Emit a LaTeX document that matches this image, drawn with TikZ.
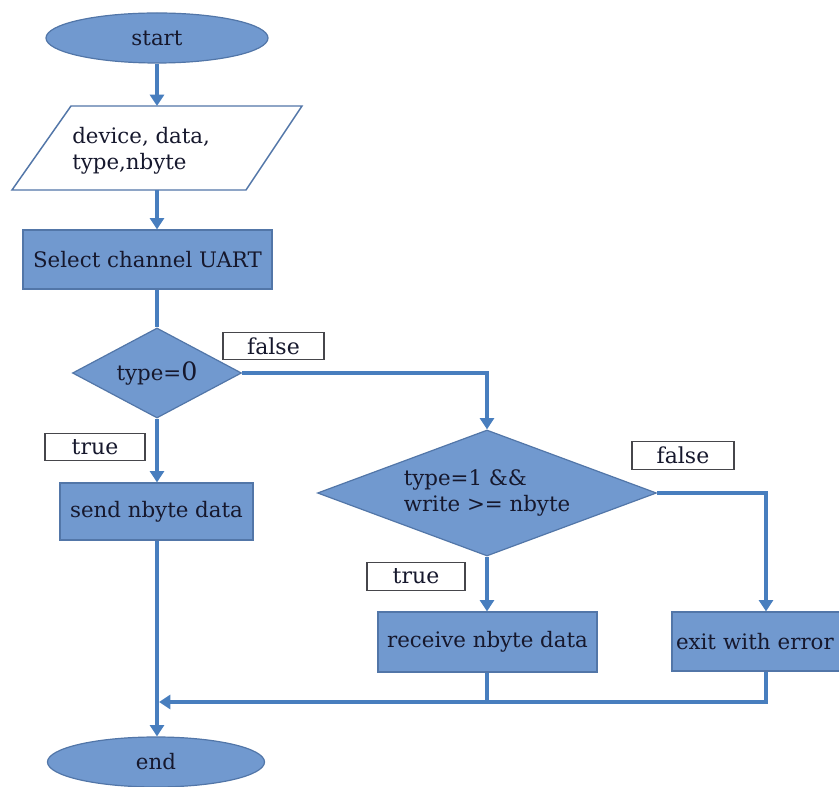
\documentclass[tikz,border=0pt]{standalone}
\usepackage{fontspec}
\setmainfont{DejaVu Serif}
\usetikzlibrary{shapes.geometric,arrows.meta}

\definecolor{boxfill}{RGB}{113,153,207}
\definecolor{boxline}{RGB}{82,118,168}
\definecolor{flow}{RGB}{72,126,190}
\definecolor{tagline}{RGB}{70,70,75}
\definecolor{ink}{RGB}{22,24,45}

\begin{document}
\begin{tikzpicture}[x=0.75pt,y=-0.75pt,
  every node/.style={font=\fontsize{16}{19.5}\selectfont, text=ink},
  base/.style={draw=boxline, line width=0.9pt, fill=boxfill, inner sep=0pt},
  terminal/.style={base, ellipse},
  process/.style={base, rectangle},
  decision/.style={base, diamond},
  ioshape/.style={draw=boxline, line width=1.1pt, fill=white},
  tag/.style={draw=tagline, line width=0.8pt, fill=white, inner sep=0pt,
    font=\fontsize{16.5}{19}\selectfont, minimum height=20.5pt},
  flowline/.style={draw=flow, line width=3pt},
  flowarrow/.style={flowline, -{Triangle[width=10.5pt,length=8.5pt]}}]

\path[use as bounding box, clip] (0,0) rectangle (839,787);
\fill[white] (0,0) rectangle (839,787);

% input / output parallelogram
\coordinate (inTL) at (71,106);
\coordinate (inTR) at (302,106);
\coordinate (inBR) at (246,190);
\coordinate (inBL) at (12,190);
\draw[ioshape] (inTL) -- (inTR) -- (inBR) -- (inBL) -- cycle;
\coordinate (intop) at (157,106);
\coordinate (inbottom) at (157,190);

% shapes of the flow
\node[terminal, minimum width=166.5pt, minimum height=37.5pt] (start) at (157,38) {start};
\node[anchor=west, align=left, inner sep=0pt] (input) at (72,151)
  {device, data,\\type,nbyte};
\node[process, minimum width=186.75pt, minimum height=44.25pt] (select) at (147.5,259.5)
  {Select channel UART};
\node[decision, aspect=1.88, minimum width=126.75pt, minimum height=67.5pt] (typezero) at (157,373)
  {type={\fontsize{19}{19}\selectfont 0}};
\node[process, minimum width=144.75pt, minimum height=42.75pt] (send) at (156.5,511.5)
  {send nbyte data};
\node[decision, aspect=2.69, minimum width=254.25pt, minimum height=94.5pt, align=left] (typeone) at (487,493)
  {type=1 \&\&\\write >= nbyte};
\node[process, minimum width=164.25pt, minimum height=45pt] (receive) at (487.5,642)
  {receive nbyte data};
\node[process, minimum width=141pt, minimum height=44.25pt, text width=135pt,
  align=left, inner xsep=3pt] (exit) at (766,641.5) {exit with error};
\node[terminal, minimum width=162.75pt, minimum height=37.5pt] (end) at (156,762) {end};

% branch labels
\node[tag, minimum width=75.75pt] (false1) at (273.5,346) {false};
\node[tag, minimum width=75pt] (true1) at (95,447) {true};
\node[tag, minimum width=76.5pt] (false2) at (683,455.5) {false};
\node[tag, minimum width=73.5pt] (true2) at (416,576.5) {true};

% connectors
\coordinate (join) at (157,702);
\draw[flowarrow] (start.south) -- (intop);
\draw[flowarrow] (inbottom) -- (inbottom |- select.north);
\draw[flowline] (inbottom |- select.south) -- (typezero.north);
\draw[flowarrow] (typezero.south) -- (send.north -| typezero.south);
\draw[flowarrow] (typezero.east) -- (typezero.east -| typeone.north) -- (typeone.north);
\draw[flowarrow] (typeone.south) -- (typeone.south |- receive.north);
\draw[flowarrow] (typeone.east) -- (typeone.east -| exit.north) -- (exit.north);
\draw[flowarrow] (send.south -| join) -- (end.north -| join);
\draw[flowline] (receive.south -| typeone.south) -- (typeone.south |- join);
\draw[flowarrow] (exit.south) -- (exit.south |- join) -- ([xshift=1.5pt]join);
\end{tikzpicture}
\end{document}
